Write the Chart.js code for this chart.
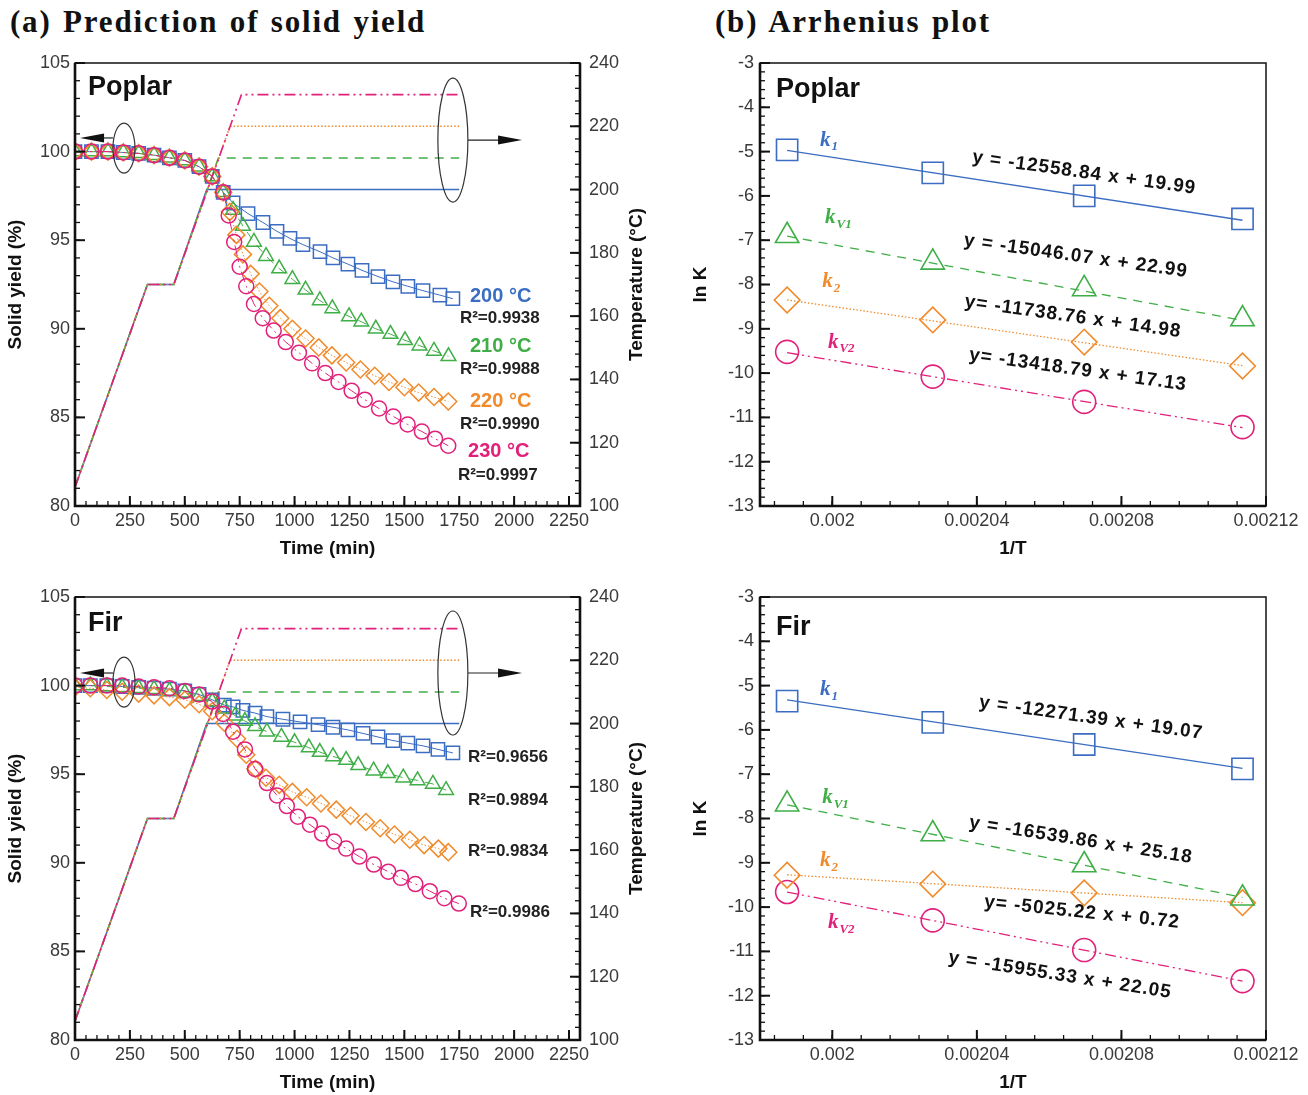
<!DOCTYPE html>
<html><head><meta charset="utf-8">
<script src="https://cdn.jsdelivr.net/npm/chart.js@4.4.1/dist/chart.umd.min.js"></script>
<style>
html,body{margin:0;padding:0;background:#fff}
body{width:1308px;height:1095px;position:relative;overflow:hidden}
canvas{position:absolute}
.ttl{position:absolute;font-family:'Liberation Serif','Times New Roman',serif;font-weight:bold;font-size:31px;letter-spacing:1.8px;word-spacing:2px;color:#111;white-space:nowrap;line-height:1}
</style></head><body>
<div class="ttl" style="left:10px;top:6px">(a) Prediction of solid yield</div>
<div class="ttl" style="left:715px;top:6px">(b) Arrhenius plot</div>
<canvas id="a1" width="660" height="540" style="left:0;top:40px"></canvas>
<canvas id="b1" width="628" height="540" style="left:680px;top:40px"></canvas>
<canvas id="a2" width="660" height="540" style="left:0;top:574px"></canvas>
<canvas id="b2" width="628" height="540" style="left:680px;top:574px"></canvas>
<script>
// ---------------- DATA ----------------
// (a) Poplar: solid yield (%) vs time (min)
const poplarTime200 = [0,75,150,220,290,360,430,500,565,625,675,720,788,856,920,979,1038,1116,1175,1243,1307,1380,1448,1516,1585,1662,1721];
const poplarYield200 = [100,100,100,99.95,99.9,99.8,99.65,99.5,99.15,98.6,97.7,97.1,96.5,96.0,95.5,95.1,94.75,94.35,94.0,93.65,93.3,92.95,92.65,92.4,92.15,91.9,91.7];
const poplarTime210 = [0,75,150,220,290,360,430,500,565,625,675,720,765,815,870,930,990,1050,1115,1172,1248,1304,1370,1437,1503,1569,1635,1701];
const poplarYield210 = [100,100,100,99.95,99.9,99.8,99.65,99.5,99.15,98.6,97.7,96.7,95.8,94.9,94.1,93.4,92.8,92.2,91.6,91.15,90.7,90.4,90.0,89.7,89.35,89.05,88.75,88.45];
const poplarTime220 = [0,75,150,220,290,360,430,500,565,625,675,705,735,765,800,840,885,935,990,1050,1110,1170,1235,1300,1365,1430,1500,1565,1635,1700];
const poplarYield220 = [100,100,100,99.95,99.9,99.8,99.65,99.5,99.15,98.6,97.7,96.6,95.3,94.2,93.1,92.1,91.3,90.6,90.0,89.45,88.95,88.5,88.1,87.7,87.35,87.0,86.7,86.4,86.15,85.9];
const poplarTime230 = [0,75,150,220,290,360,430,500,565,625,675,700,725,750,780,815,855,905,960,1020,1080,1140,1200,1260,1320,1385,1450,1515,1580,1640,1700];
const poplarYield230 = [100,100,100,99.95,99.9,99.8,99.65,99.5,99.15,98.6,97.7,96.4,94.9,93.5,92.4,91.4,90.6,89.9,89.25,88.65,88.05,87.5,87.0,86.5,86.0,85.5,85.05,84.6,84.2,83.8,83.4];
// (a) Fir
const firTime200 = [0,70,145,215,290,360,430,500,565,625,680,720,765,820,874,947,1025,1107,1175,1243,1312,1380,1448,1516,1585,1653,1721];
const firYield200 = [100,100,100,99.95,99.9,99.85,99.8,99.7,99.5,99.2,98.9,98.8,98.6,98.45,98.25,98.1,97.95,97.8,97.65,97.5,97.3,97.1,96.9,96.75,96.6,96.4,96.2];
const firTime210 = [0,70,145,215,290,360,430,500,565,625,680,730,774,820,874,940,1000,1065,1115,1175,1235,1290,1360,1425,1495,1560,1630,1690];
const firYield210 = [100,100,99.95,99.9,99.85,99.8,99.7,99.6,99.4,99.1,98.7,98.3,98.0,97.7,97.4,97.1,96.8,96.5,96.25,96.0,95.8,95.5,95.2,95.05,94.8,94.65,94.45,94.1];
const firTime220 = [0,70,145,215,290,360,430,500,565,625,680,738,780,822,870,930,990,1055,1120,1190,1255,1325,1390,1455,1525,1590,1655,1700];
const firYield220 = [99.9,99.85,99.75,99.65,99.55,99.45,99.35,99.2,98.95,98.55,97.9,97.0,96.1,95.3,94.8,94.4,94.0,93.7,93.35,93.0,92.65,92.3,91.95,91.6,91.3,91.0,90.8,90.6];
const firTime230 = [0,70,145,215,290,360,430,500,565,625,675,720,774,820,874,920,965,1015,1070,1125,1180,1235,1295,1361,1427,1484,1550,1616,1682,1748];
const firYield230 = [100,100,100,100,99.95,99.9,99.85,99.7,99.5,99.1,98.4,97.4,96.4,95.3,94.5,93.8,93.2,92.6,92.15,91.65,91.2,90.8,90.35,89.9,89.5,89.15,88.8,88.4,88.0,87.7];
// (a) temperature programme (°C) vs time (min)
const tempTime200 = [0,330,450,600,1750];
const tempValue200 = [106,170,170,200,200];
const tempTime210 = [0,330,450,653,1750];
const tempValue210 = [106,170,170,210,210];
const tempTime220 = [0,330,450,706,1750];
const tempValue220 = [106,170,170,220,220];
const tempTime230 = [0,330,450,758,1750];
const tempValue230 = [106,170,170,230,230];
// (b) Arrhenius: ln K vs 1/T
const invT = [0.0019875,0.0020278,0.0020697,0.0021135];
const invTFit = [0.0019875,0.0021135];
const poplarLnK1 = [-4.96,-5.48,-6.00,-6.52];
const poplarLnKV1 = [-6.90,-7.50,-8.10,-8.78];
const poplarLnK2 = [-8.35,-8.80,-9.30,-9.84];
const poplarLnKV2 = [-9.52,-10.08,-10.65,-11.22];
const poplarFitK1 = [-4.97,-6.55];
const poplarFitKV1 = [-6.91,-8.81];
const poplarFitK2 = [-8.35,-9.83];
const poplarFitKV2 = [-9.54,-11.23];
const firLnK1 = [-5.35,-5.83,-6.33,-6.88];
const firLnKV1 = [-7.68,-8.35,-9.05,-9.80];
const firLnK2 = [-9.28,-9.48,-9.68,-9.90];
const firLnKV2 = [-9.66,-10.30,-10.97,-11.67];
const firFitK1 = [-5.32,-6.87];
const firFitKV1 = [-7.69,-9.78];
const firFitK2 = [-9.27,-9.90];
const firFitKV2 = [-9.66,-11.67];
// ticks
const xTicksA = [0,250,500,750,1000,1250,1500,1750,2000,2250];
const yTicksA = [80,85,90,95,100,105];
const y2TicksA = [100,120,140,160,180,200,220,240];
const xTicksB = [0.002,0.00204,0.00208,0.00212];
const xTickLabelsB = ['0.002','0.00204','0.00208','0.00212'];
const yTicksB = [-13,-12,-11,-10,-9,-8,-7,-6,-5,-4,-3];

// ---------------- STYLE ----------------
const FONT = "'Liberation Sans', Arial, Helvetica, sans-serif";
const SERIF = "'Liberation Serif', 'Times New Roman', serif";
const BLUE = '#3b6dc2', GREEN = '#3fae46', ORANGE = '#f18a2a', MAGENTA = '#e1207a';
const DASH = {solid: [], dashed: [9, 7], dotted: [1.5, 2], dashdot: [11, 4, 2, 4, 2, 4]};
const TICKFONT = {family: FONT, size: 18};
const TICKCOLOR = '#3a3a3a';

function pts(xs, ys) { return xs.map((x, i) => ({x: x, y: ys[i]})); }

function framePlugin(cfg) {
  return {
    id: 'frameTicks',
    afterDraw(chart) {
      const ctx = chart.ctx, a = chart.chartArea;
      ctx.save();
      ctx.strokeStyle = '#111';
      ctx.lineWidth = 1.5;
      ctx.strokeRect(a.left, a.top, a.right - a.left, a.bottom - a.top);
      ctx.lineWidth = 2.6;
      ctx.beginPath();
      ctx.moveTo(a.left, a.top); ctx.lineTo(a.left, a.bottom); ctx.lineTo(a.right, a.bottom);
      if (cfg.thickRight) ctx.lineTo(a.right, a.top);
      ctx.stroke();
      for (const id in cfg.ticks) {
        const s = chart.scales[id], c = cfg.ticks[id];
        const minors = [];
        const eps = c.minor * 1e-3;
        for (let v = c.majors[0]; v >= s.min - eps; v -= c.minor) minors.push(v);
        for (let v = c.majors[0]; v <= s.max + eps; v += c.minor) minors.push(v);
        const draw = (v, len, lw) => {
          const p = s.getPixelForValue(v);
          ctx.lineWidth = lw;
          ctx.beginPath();
          if (id === 'x') { ctx.moveTo(p, a.bottom); ctx.lineTo(p, a.bottom - len); }
          else if (s.position === 'left') { ctx.moveTo(a.left, p); ctx.lineTo(a.left + len, p); }
          else { ctx.moveTo(a.right, p); ctx.lineTo(a.right - len, p); }
          ctx.stroke();
        };
        minors.forEach(v => draw(v, 5, 1.3));
        c.majors.forEach(v => draw(v, 10, 2));
      }
      ctx.restore();
    }
  };
}

function annoPlugin(spec) {
  return {
    id: 'anno',
    afterDraw(chart) {
      const ctx = chart.ctx, sx = chart.scales.x, sy = chart.scales.y, a = chart.chartArea;
      const X = v => sx.getPixelForValue(v), Y = v => sy.getPixelForValue(v);
      ctx.save();
      (spec.ellipses || []).forEach(e => {
        ctx.strokeStyle = '#333'; ctx.lineWidth = 1.2;
        ctx.beginPath(); ctx.ellipse(X(e.x), Y(e.y), e.rx, e.ry, 0, 0, Math.PI * 2); ctx.stroke();
      });
      (spec.arrows || []).forEach(r => {
        const x1 = X(r.x1), x2 = X(r.x2), y = Y(r.y), dir = Math.sign(x2 - x1);
        ctx.strokeStyle = '#222'; ctx.fillStyle = '#111'; ctx.lineWidth = 1.2;
        ctx.beginPath(); ctx.moveTo(x1, y); ctx.lineTo(x2 - dir * 10, y); ctx.stroke();
        ctx.beginPath(); ctx.moveTo(x2, y); ctx.lineTo(x2 - dir * 24, y - 4.5); ctx.lineTo(x2 - dir * 24, y + 4.5); ctx.closePath(); ctx.fill();
      });
      (spec.texts || []).forEach(t => {
        ctx.save();
        ctx.translate(X(t.x), Y(t.y));
        if (t.rot) ctx.rotate(t.rot * Math.PI / 180);
        ctx.fillStyle = t.color || '#111';
        ctx.textBaseline = 'middle';
        ctx.textAlign = t.align || 'left';
        if (t.ls) ctx.letterSpacing = t.ls;
        if (t.sub !== undefined) {
          ctx.font = 'italic bold 21px ' + SERIF;
          ctx.fillText('k', 0, 0);
          const w = ctx.measureText('k').width;
          ctx.font = 'italic bold 13px ' + SERIF;
          ctx.fillText(t.sub, w + 1, 7);
        } else {
          ctx.font = t.font;
          ctx.fillText(t.text, 0, 0);
        }
        ctx.restore();
      });
      if (spec.rightTitle) {
        ctx.save();
        ctx.translate(a.right + 57, (a.top + a.bottom) / 2);
        ctx.rotate(-Math.PI / 2);
        ctx.font = 'bold 19px ' + FONT; ctx.fillStyle = '#111';
        ctx.textAlign = 'center'; ctx.textBaseline = 'middle';
        ctx.fillText(spec.rightTitle, 0, 0);
        ctx.restore();
      }
      ctx.restore();
    }
  };
}

function yieldSet(t, y, color, style, r, dash) {
  return {data: pts(t, y), showLine: true, borderColor: color, borderWidth: 1, borderDash: dash,
    pointStyle: style, pointRadius: r, pointHoverRadius: r, pointBorderColor: color,
    pointBackgroundColor: 'rgba(0,0,0,0)', pointBorderWidth: 1.5, yAxisID: 'y'};
}
function tempSet(t, v, color, dash) {
  return {data: pts(t, v), showLine: true, borderColor: color, borderWidth: 1.6, borderDash: dash,
    pointRadius: 0, pointHoverRadius: 0, yAxisID: 'y2'};
}

function buildA(id, ser, anno) {
  const datasets = [
    yieldSet(ser.t230, ser.y230, MAGENTA, 'circle', 7.5, DASH.dashdot),
    yieldSet(ser.t220, ser.y220, ORANGE, 'rectRot', 8.5, DASH.dotted),
    yieldSet(ser.t210, ser.y210, GREEN, 'triangle', 8.5, DASH.dashed),
    yieldSet(ser.t200, ser.y200, BLUE, 'rect', 9.4, DASH.solid),
    tempSet(tempTime230, tempValue230, MAGENTA, DASH.dashdot),
    tempSet(tempTime220, tempValue220, ORANGE, DASH.dotted),
    tempSet(tempTime210, tempValue210, GREEN, DASH.dashed),
    tempSet(tempTime200, tempValue200, BLUE, DASH.solid)
  ];
  new Chart(document.getElementById(id), {
    type: 'scatter',
    data: {datasets},
    options: {
      responsive: false, animation: false, devicePixelRatio: 1,
      layout: {padding: {top: 23, right: 0, bottom: 0, left: 0}},
      plugins: {legend: {display: false}, tooltip: {enabled: false}},
      scales: {
        x: {type: 'linear', min: 0, max: 2300, grid: {display: false, drawTicks: false}, border: {display: false},
          afterBuildTicks: s => { s.ticks = xTicksA.map(v => ({value: v})); },
          afterFit: s => { s.height = 74; },
          ticks: {font: TICKFONT, color: TICKCOLOR, padding: 4, maxRotation: 0, autoSkip: false,
            callback: v => String(v)},
          title: {display: true, text: 'Time (min)', font: {family: FONT, size: 19, weight: 'bold'}, color: '#111', padding: {top: 0, bottom: 20}}},
        y: {type: 'linear', position: 'left', min: 80, max: 105, grid: {display: false, drawTicks: false}, border: {display: false},
          afterBuildTicks: s => { s.ticks = yTicksA.map(v => ({value: v})); },
          afterFit: s => { s.width = 75; },
          ticks: {font: TICKFONT, color: TICKCOLOR, padding: 5, callback: v => String(v)},
          title: {display: true, text: 'Solid yield (%)', font: {family: FONT, size: 19, weight: 'bold'}, color: '#111', padding: {top: 4, bottom: 0}}},
        y2: {type: 'linear', position: 'right', min: 100, max: 240, grid: {display: false, drawTicks: false}, border: {display: false},
          afterBuildTicks: s => { s.ticks = y2TicksA.map(v => ({value: v})); },
          afterFit: s => { s.width = 80; },
          ticks: {font: TICKFONT, color: TICKCOLOR, padding: 9, callback: v => String(v)}}
      }
    },
    plugins: [framePlugin({thickRight: true, ticks: {
      x: {majors: xTicksA, minor: 50}, y: {majors: yTicksA, minor: 1}, y2: {majors: y2TicksA, minor: 4}}}),
      annoPlugin(anno)]
  });
}

function markSet(ys, color, style, r) {
  return {data: pts(invT, ys), showLine: false, pointStyle: style, pointRadius: r, pointHoverRadius: r,
    pointBorderColor: color, pointBackgroundColor: 'rgba(0,0,0,0)', pointBorderWidth: 1.6};
}
function fitSet(ys, color, dash) {
  return {data: pts(invTFit, ys), showLine: true, borderColor: color, borderWidth: 1.3, borderDash: dash,
    pointRadius: 0, pointHoverRadius: 0};
}

function buildB(id, d, anno) {
  const datasets = [
    markSet(d.k1, BLUE, 'rect', 15), markSet(d.kv1, GREEN, 'triangle', 13.5),
    markSet(d.k2, ORANGE, 'rectRot', 12.8), markSet(d.kv2, MAGENTA, 'circle', 11.5),
    fitSet(d.f1, BLUE, DASH.solid), fitSet(d.fv1, GREEN, DASH.dashed),
    fitSet(d.f2, ORANGE, DASH.dotted), fitSet(d.fv2, MAGENTA, DASH.dashdot)
  ];
  new Chart(document.getElementById(id), {
    type: 'scatter',
    data: {datasets},
    options: {
      responsive: false, animation: false, devicePixelRatio: 1,
      layout: {padding: {top: 23, right: 42, bottom: 0, left: 0}},
      plugins: {legend: {display: false}, tooltip: {enabled: false}},
      scales: {
        x: {type: 'linear', min: 0.00198, max: 0.00212, grid: {display: false, drawTicks: false}, border: {display: false},
          afterBuildTicks: s => { s.ticks = xTicksB.map(v => ({value: v})); },
          afterFit: s => { s.height = 74; },
          ticks: {font: TICKFONT, color: TICKCOLOR, padding: 4, maxRotation: 0, autoSkip: false,
            callback: (v, i) => xTickLabelsB[i]},
          title: {display: true, text: '1/T', font: {family: FONT, size: 19, weight: 'bold'}, color: '#111', padding: {top: 0, bottom: 20}}},
        y: {type: 'linear', position: 'left', min: -13, max: -3, grid: {display: false, drawTicks: false}, border: {display: false},
          afterBuildTicks: s => { s.ticks = yTicksB.map(v => ({value: v})); },
          afterFit: s => { s.width = 80; },
          ticks: {font: TICKFONT, color: TICKCOLOR, padding: 6},
          title: {display: true, text: 'ln K', font: {family: FONT, size: 19, weight: 'bold'}, color: '#111', padding: {top: 9, bottom: 0}}}
      }
    },
    plugins: [framePlugin({thickRight: false, ticks: {
      x: {majors: xTicksB, minor: 0.000008}, y: {majors: yTicksB, minor: 0.2}}}),
      annoPlugin(anno)]
  });
}

const LBL = 'bold 27px ' + FONT;
const TEMPF = 'bold 20px ' + FONT;
const R2F = 'bold 17px ' + FONT;
const EQF = 'bold 19px ' + FONT;

buildA('a1', {t200: poplarTime200, y200: poplarYield200, t210: poplarTime210, y210: poplarYield210,
  t220: poplarTime220, y220: poplarYield220, t230: poplarTime230, y230: poplarYield230}, {
  rightTitle: 'Temperature (°C)',
  ellipses: [{x: 223, y: 100.2, rx: 11, ry: 25}, {x: 1721, y: 100.65, rx: 15, ry: 62}],
  arrows: [{x1: 173, x2: 23, y: 100.77}, {x1: 1790, x2: 2036, y: 100.65}],
  texts: [
    {x: 59, y: 103.6, text: 'Poplar', font: LBL},
    {x: 1799, y: 91.8, text: '200 °C', font: TEMPF, color: BLUE},
    {x: 1753, y: 90.6, text: 'R²=0.9938', font: R2F, color: '#222'},
    {x: 1799, y: 89.0, text: '210 °C', font: TEMPF, color: GREEN},
    {x: 1753, y: 87.7, text: 'R²=0.9988', font: R2F, color: '#222'},
    {x: 1799, y: 85.9, text: '220 °C', font: TEMPF, color: ORANGE},
    {x: 1753, y: 84.6, text: 'R²=0.9990', font: R2F, color: '#222'},
    {x: 1790, y: 83.05, text: '230 °C', font: TEMPF, color: MAGENTA},
    {x: 1744, y: 81.75, text: 'R²=0.9997', font: R2F, color: '#222'}
  ]
});

buildA('a2', {t200: firTime200, y200: firYield200, t210: firTime210, y210: firYield210,
  t220: firTime220, y220: firYield220, t230: firTime230, y230: firYield230}, {
  rightTitle: 'Temperature (°C)',
  ellipses: [{x: 223, y: 100.2, rx: 11, ry: 25}, {x: 1721, y: 100.71, rx: 15, ry: 62}],
  arrows: [{x1: 173, x2: 23, y: 100.71}, {x1: 1790, x2: 2036, y: 100.71}],
  texts: [
    {x: 59, y: 103.52, text: 'Fir', font: LBL},
    {x: 1790, y: 95.97, text: 'R²=0.9656', font: R2F, color: '#222'},
    {x: 1790, y: 93.54, text: 'R²=0.9894', font: R2F, color: '#222'},
    {x: 1790, y: 90.67, text: 'R²=0.9834', font: R2F, color: '#222'},
    {x: 1799, y: 87.2, text: 'R²=0.9986', font: R2F, color: '#222'}
  ]
});

buildB('b1', {k1: poplarLnK1, kv1: poplarLnKV1, k2: poplarLnK2, kv2: poplarLnKV2,
  f1: poplarFitK1, fv1: poplarFitKV1, f2: poplarFitK2, fv2: poplarFitKV2}, {
  texts: [
    {x: 0.0019844, y: -3.61, text: 'Poplar', font: LBL},
    {x: 0.0019966, y: -4.74, sub: '1', color: BLUE},
    {x: 0.0019980, y: -6.50, sub: 'V1', color: GREEN},
    {x: 0.0019972, y: -7.94, sub: '2', color: ORANGE},
    {x: 0.0019988, y: -9.30, sub: 'V2', color: MAGENTA},
    {x: 0.0020697, y: -5.48, text: 'y = -12558.84 x + 19.99', font: EQF, align: 'center', rot: 8, ls: '1px'},
    {x: 0.0020674, y: -7.36, text: 'y = -15046.07 x + 22.99', font: EQF, align: 'center', rot: 8, ls: '1px'},
    {x: 0.0020666, y: -8.73, text: 'y= -11738.76 x + 14.98', font: EQF, align: 'center', rot: 8, ls: '1px'},
    {x: 0.0020680, y: -9.93, text: 'y= -13418.79 x + 17.13', font: EQF, align: 'center', rot: 8, ls: '1px'}
  ]
});

buildB('b2', {k1: firLnK1, kv1: firLnKV1, k2: firLnK2, kv2: firLnKV2,
  f1: firFitK1, fv1: firFitKV1, f2: firFitK2, fv2: firFitKV2}, {
  texts: [
    {x: 0.0019844, y: -3.7, text: 'Fir', font: LBL},
    {x: 0.0019966, y: -5.10, sub: '1', color: BLUE},
    {x: 0.0019972, y: -7.52, sub: 'V1', color: GREEN},
    {x: 0.0019966, y: -8.94, sub: '2', color: ORANGE},
    {x: 0.0019988, y: -10.34, sub: 'V2', color: MAGENTA},
    {x: 0.0020716, y: -5.73, text: 'y = -12271.39 x + 19.07', font: EQF, align: 'center', rot: 8, ls: '1px'},
    {x: 0.0020688, y: -8.49, text: 'y = -16539.86 x + 25.18', font: EQF, align: 'center', rot: 9, ls: '1px'},
    {x: 0.0020691, y: -10.12, text: 'y= -5025.22 x + 0.72', font: EQF, align: 'center', rot: 6, ls: '1px'},
    {x: 0.0020630, y: -11.54, text: 'y = -15955.33 x + 22.05', font: EQF, align: 'center', rot: 9, ls: '1px'}
  ]
});
</script>
</body></html>
